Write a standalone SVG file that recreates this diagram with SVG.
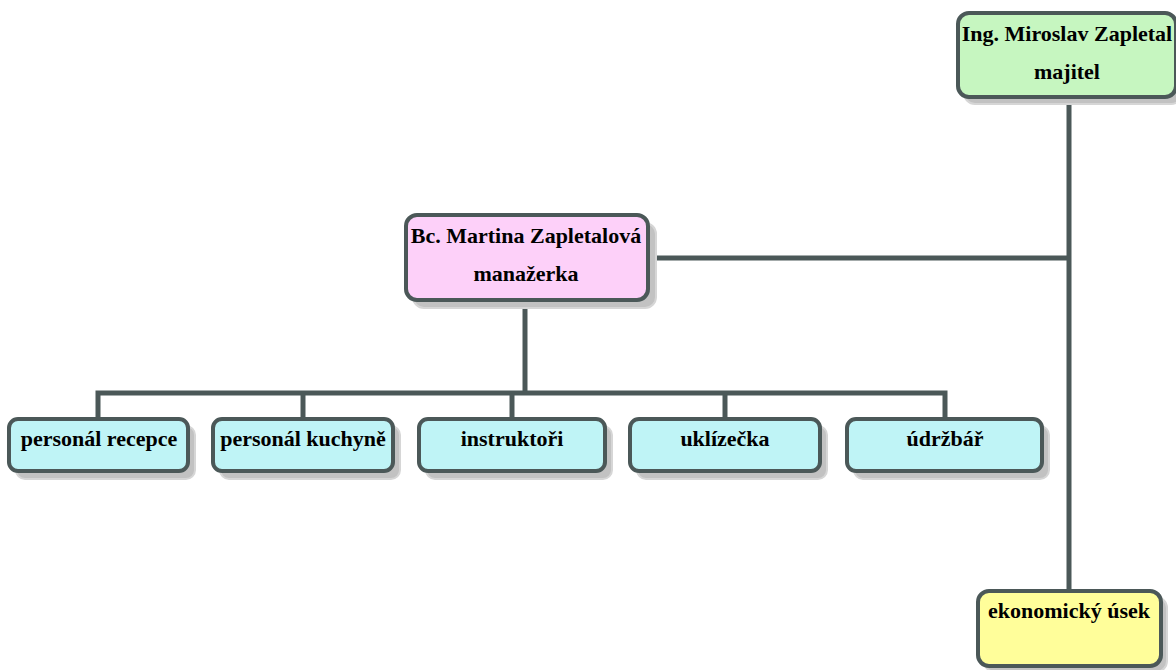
<svg xmlns="http://www.w3.org/2000/svg" width="1176" height="670" viewBox="0 0 1176 670">
<style>
.shadow{fill:#c2c2c2;stroke:#d6d6d6;stroke-width:2}
.box{stroke:#4b5858;stroke-width:4}
.green{fill:#c6f6c0}
.pink{fill:#fdd0f9}
.cyan{fill:#bff4f6}
.yellow{fill:#fffe9a}
.lbl{font-family:"Liberation Serif","Times New Roman",serif;font-weight:bold;font-size:22px;fill:#000;text-anchor:middle}
.conn{stroke:#4b5858;stroke-width:5;fill:none}
</style>
<rect width="1176" height="670" fill="#ffffff"/>
<g id="connectors">
<path class="conn" d="M1069 97 V590"/>
<path class="conn" d="M648 258 H1069"/>
<path class="conn" d="M525 300 V393"/>
<path class="conn" d="M98 419 V393 H945 V419"/>
<path class="conn" d="M303 393 V419"/>
<path class="conn" d="M512 393 V419"/>
<path class="conn" d="M725 393 V419"/>
</g>
<g id="node-majitel">
<rect class="shadow" x="964" y="19" width="218" height="85" rx="11"/>
<rect class="box green" x="958" y="13" width="218" height="84" rx="11"/>
<text class="lbl" x="1067" y="41">Ing. Miroslav Zapletal</text>
<text class="lbl" x="1067" y="79">majitel</text>
</g>
<g id="node-manazerka">
<rect class="shadow" x="413" y="223" width="243" height="85" rx="11"/>
<rect class="box pink" x="406" y="215" width="242" height="85" rx="11"/>
<text class="lbl" x="526" y="243">Bc. Martina Zapletalová</text>
<text class="lbl" x="526" y="281">manažerka</text>
</g>
<g id="node-recepce">
<rect class="shadow" x="16" y="426" width="179" height="53" rx="9"/>
<rect class="box cyan" x="9" y="419" width="179" height="52" rx="9"/>
<text class="lbl" x="99" y="446">personál recepce</text>
</g>
<g id="node-kuchyne">
<rect class="shadow" x="220" y="426" width="180" height="53" rx="9"/>
<rect class="box cyan" x="213" y="419" width="180" height="52" rx="9"/>
<text class="lbl" x="303" y="446">personál kuchyně</text>
</g>
<g id="node-instruktori">
<rect class="shadow" x="426" y="426" width="186" height="53" rx="9"/>
<rect class="box cyan" x="419" y="419" width="186" height="52" rx="9"/>
<text class="lbl" x="512" y="446">instruktoři</text>
</g>
<g id="node-uklizecka">
<rect class="shadow" x="637" y="426" width="190" height="53" rx="9"/>
<rect class="box cyan" x="630" y="419" width="190" height="52" rx="9"/>
<text class="lbl" x="725" y="446">uklízečka</text>
</g>
<g id="node-udrzbar">
<rect class="shadow" x="854" y="426" width="195" height="53" rx="9"/>
<rect class="box cyan" x="847" y="419" width="195" height="52" rx="9"/>
<text class="lbl" x="945" y="446">údržbář</text>
</g>
<g id="node-ekonomicky">
<rect class="shadow" x="984" y="597" width="183" height="75" rx="11"/>
<rect class="box yellow" x="978" y="591" width="183" height="75" rx="11"/>
<text class="lbl" x="1069" y="618">ekonomický úsek</text>
</g>
</svg>
